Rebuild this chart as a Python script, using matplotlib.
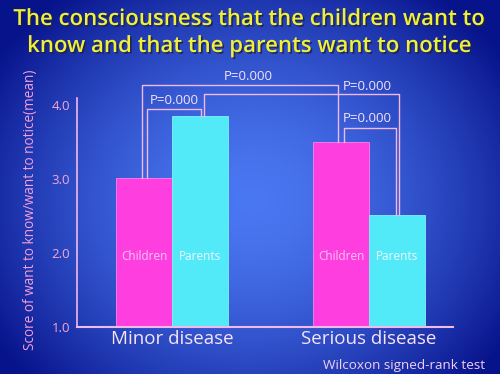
import numpy as np
import matplotlib
matplotlib.use("Agg")
import matplotlib.pyplot as plt
import matplotlib.patheffects as pe

# ---- data ----
groups = ["Minor disease", "Serious disease"]
series = ["Children", "Parents"]
children = [3.02, 3.50]
parents = [3.85, 2.52]
p_labels = ["P=0.000", "P=0.000", "P=0.000", "P=0.000"]
yticks = [1.0, 2.0, 3.0, 4.0]
ytick_labels = ["1.0", "2.0", "3.0", "4.0"]

plt.rcParams['font.family'] = ['Open Sans', 'DejaVu Sans']

fig = plt.figure(figsize=(5.0, 3.74), dpi=100)

# background radial gradient
bg = fig.add_axes([0, 0, 1, 1])
bg.set_axis_off()
yy, xx = np.mgrid[0:374, 0:500]
d = np.sqrt(((xx - 250) / 300.0) ** 2 + ((yy - 200) / 260.0) ** 2)
d = np.clip(d, 0, 1)
c0 = np.array([0x4a, 0x78, 0xf2]) / 255.0
c1 = np.array([0x08, 0x14, 0x8c]) / 255.0
t = d[..., None] ** 1.6
img = c0 * (1 - t) + c1 * t
bg.imshow(img, aspect='auto', extent=[0, 1, 0, 1], origin='upper')
bg.set_xlim(0, 1)
bg.set_ylim(0, 1)

ax = fig.add_axes([77 / 500, 1 - 327 / 374, (453 - 77) / 500, (327 - 98) / 374])
ax.patch.set_alpha(0)
ax.set_ylim(1.0, 4.1)
ax.set_xlim(-0.482, 1.426)

w = 0.282
x = np.arange(len(groups))
pink = "#ff3ee0"
cyan = "#52eaf8"
ax.bar(x - w / 2, [c - 1.0 for c in children], w, bottom=1.0, color=pink,
       edgecolor="#ff80f0", linewidth=0.6)
ax.bar(x + w / 2, [p - 1.0 for p in parents], w, bottom=1.0, color=cyan,
       edgecolor="#80f4f8", linewidth=0.6)

for i in range(len(groups)):
    ax.text(x[i] - w / 2, 1.95, series[0], ha='center', va='center', fontsize=8.5,
            color="#f4c8f4")
    ax.text(x[i] + w / 2, 1.95, series[1], ha='center', va='center', fontsize=8.5,
            color="#f0f8ff")

axc = "#f2b8e6"
for s in ['top', 'right']:
    ax.spines[s].set_visible(False)
ax.spines['left'].set_color(axc)
ax.spines['bottom'].set_color(axc)
ax.spines['left'].set_linewidth(1.2)
ax.spines['bottom'].set_linewidth(1.5)
ax.set_yticks(yticks)
ax.set_yticklabels(ytick_labels)
ax.tick_params(axis='y', length=0, pad=5, colors="#f4a8d8", labelsize=9.5)
ax.set_xticks(x)
ax.set_xticklabels(groups, fontsize=13.5, color="#f8e4f4")
ax.tick_params(axis='x', length=0, pad=2)
ax.set_ylabel("Score of want to know/want to notice(mean)", color="#f4a0d8",
              fontsize=9.8)
ax.yaxis.set_label_coords(-0.104, 0.513)

# brackets
lc = "#f2b8e6"
def bracket(x0, y0, x1, y1, ytop, label, lx, ly, ha='center'):
    ax.plot([x0, x0, x1, x1], [y0, ytop, ytop, y1], color=lc, lw=1.0, clip_on=False)
    ax.text(lx, ly, label, ha=ha, va='center', fontsize=9.5, color="#f4e4f8",
            clip_on=False)

pxu = 1 / 197.0
bracket(x[0] - w / 2 + 2.5 * pxu, children[0], x[0] + w / 2 + 1 * pxu, parents[0], 3.946,
        p_labels[0], x[0] + 2 * pxu, 4.06)
bracket(x[0] - w / 2 - 2.5 * pxu, children[0], x[1] - w / 2 - 3.5 * pxu, children[1], 4.28,
        p_labels[1], x[0] + 76 * pxu, 4.39)
bracket(x[0] + w / 2 + 4 * pxu, parents[0], x[1] + w / 2 + 2.5 * pxu, parents[1], 4.15,
        p_labels[2], x[1] - 1.5 * pxu, 4.25)
bracket(x[1] - w / 2 + 2.5 * pxu, children[1], x[1] + w / 2 - 0.5 * pxu, parents[1], 3.70,
        p_labels[3], x[1] - 1.5 * pxu, 3.82)

shadow = [pe.withSimplePatchShadow(offset=(1.2, -1.2), shadow_rgbFace="#202040", alpha=0.8)]
fig.text(0.5, 1 - 25 / 374, "The consciousness that the children want to", ha='center',
         va='baseline', fontsize=16, fontweight='semibold', color="#f0f038",
         path_effects=shadow)
fig.text(0.5, 1 - 52 / 374, "know and that the parents want to notice", ha='center',
         va='baseline', fontsize=16, fontweight='semibold', color="#f0f038",
         path_effects=shadow)

fig.text(0.97, 0.024, "Wilcoxon signed-rank test", ha='right', va='center', fontsize=9.7,
         color="#f0d0f0")

fig.savefig("out.png", dpi=100)
